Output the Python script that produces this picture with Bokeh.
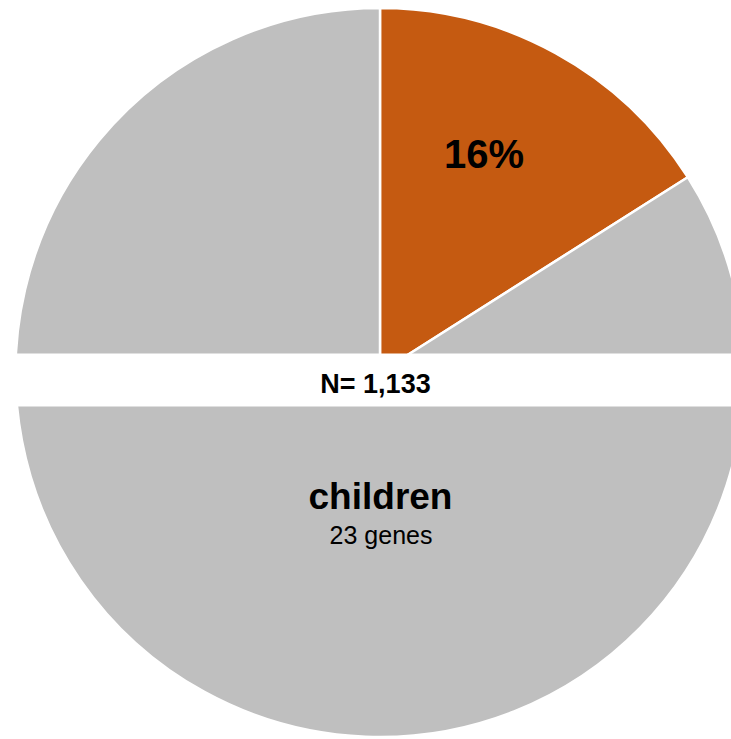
from bokeh.plotting import figure
from bokeh.models import Range1d, ColumnDataSource
from bokeh.embed import file_html
from bokeh.resources import INLINE
from bokeh.core.properties import value

# ---- data ----
categories = ["highlight", "other"]
shares = [16, 84]            # percent of full circle
colors = ["#C55A11", "#BFBFBF"]
pct_label = "16%"
n_total = 1133
group_name = "children"
group_genes = 23

FONT = "Liberation Sans"
S = 364.5  # px per data unit (radius = 1)

# wedge angles: start at 12 o'clock, go clockwise
starts, ends = [], []
cum = 0.0
for s in shares:
    starts.append(90 - cum * 3.6)
    cum += s
    ends.append(90 - cum * 3.6)

src = ColumnDataSource(dict(cat=categories, start=starts, end=ends, color=colors))

W, H = 731, 739
cx, cy = 379.5, 372.0  # circle centre within the plot, px
p = figure(width=W, height=H, output_backend="svg", toolbar_location=None,
           x_axis_type=None, y_axis_type=None, min_border=0,
           x_range=Range1d(-cx / S, (W - cx) / S),
           y_range=Range1d(-(H - cy) / S, cy / S))
p.outline_line_color = None
p.grid.visible = False
p.background_fill_color = "white"
p.border_fill_color = "white"

p.wedge(x=0, y=0, radius=1, start_angle="start", end_angle="end",
        start_angle_units="deg", end_angle_units="deg", direction="clock",
        fill_color="color", line_color="white", line_width=2.5, source=src)

# white band across the middle
p.quad(left=-2, right=2, top=19 / S, bottom=-34 / S,
       fill_color="white", line_color=None)

p.text(x=[104 / S], y=[219 / S], text=[pct_label], text_font=value(FONT),
       text_font_style="bold", text_font_size="40px", text_align="center",
       text_baseline="alphabetic", text_color="black")
p.text(x=[-4.5 / S], y=[-11 / S], text=[f"N= {n_total:,}"], text_font=value(FONT),
       text_font_style="bold", text_font_size="27px", text_align="center",
       text_baseline="alphabetic", text_color="black")
p.text(x=[0.5 / S], y=[-124 / S], text=[group_name], text_font=value(FONT),
       text_font_style="bold", text_font_size="37px", text_align="center",
       text_baseline="alphabetic", text_color="black")
p.text(x=[1 / S], y=[-162 / S], text=[f"{group_genes} genes"], text_font=value(FONT),
       text_font_size="25px", text_align="center",
       text_baseline="alphabetic", text_color="black")

open("out.html", "w").write(file_html(p, INLINE))
